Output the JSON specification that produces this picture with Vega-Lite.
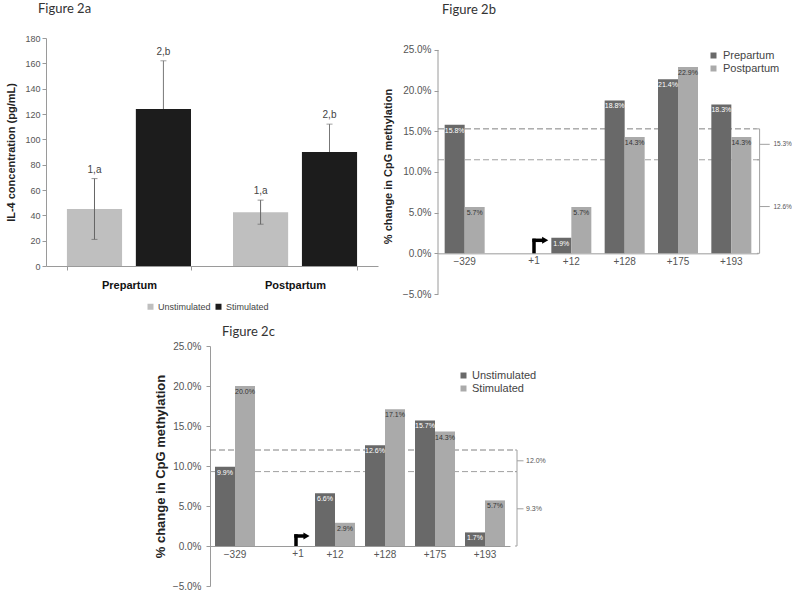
{
  "$schema": "https://vega.github.io/schema/vega-lite/v6.json",
  "padding": {"left": 5, "top": 3, "right": 0, "bottom": 0},
  "config": {
    "view": {"stroke": null},
    "font": "Liberation Sans",
    "axis": {"labelFont": "Liberation Sans", "labelColor": "#555555", "domainColor": "#9a9a9a", "tickColor": "#9a9a9a", "grid": false, "labelFontSize": 10, "labelOverlap": false, "titleFont": "Liberation Sans", "titleFontWeight": "bold", "titleColor": "#222222"},
    "legend": {"labelFont": "Liberation Sans", "labelColor": "#444444", "symbolType": "square", "symbolStrokeWidth": 0},
    "title": {"font": "Lato", "fontSize": 13, "fontWeight": "normal", "anchor": "start", "frame": "group", "color": "#333333"}
  },
  "spacing": 14,
  "resolve": {"scale": {"color": "independent", "xOffset": "independent"}, "legend": {"color": "independent"}},
  "vconcat": [
    {
      "resolve": {"scale": {"color": "independent", "xOffset": "independent"}, "legend": {"color": "independent"}},
      "spacing": 4,
      "hconcat": [
        {
          "title": {"text": "Figure 2a", "dx": -8, "offset": 18},
          "width": 332,
          "height": 228,
          "data": {"values": [
            {"period": "Prepartum", "group": "Unstimulated", "value": 45, "lo": 21, "hi": 69, "sig": "1,a"},
            {"period": "Prepartum", "group": "Stimulated", "value": 124, "lo": 86, "hi": 162, "sig": "2,b"},
            {"period": "Postpartum", "group": "Unstimulated", "value": 42.5, "lo": 33, "hi": 52, "sig": "1,a"},
            {"period": "Postpartum", "group": "Stimulated", "value": 90, "lo": 68, "hi": 112, "sig": "2,b"}
          ]},
          "encoding": {
            "x": {"field": "period", "type": "nominal", "sort": ["Prepartum", "Postpartum"], "scale": {"paddingInner": 0.253, "paddingOuter": 0.126},
                  "axis": {"title": null, "labelAngle": 0, "labelFontWeight": "bold", "labelFontSize": 11, "labelColor": "#111111", "labelPadding": 9, "tickBand": "extent", "tickSize": 4}},
            "xOffset": {"field": "group", "type": "nominal", "sort": ["Unstimulated", "Stimulated"], "scale": {"paddingInner": 0.2}}
          },
          "layer": [
            {
              "transform": [{"filter": "datum.group === 'Stimulated'"}],
              "mark": {"type": "rule", "color": "#777777"},
              "encoding": {"y": {"field": "lo", "type": "quantitative", "scale": {"domain": [0, 180], "nice": false}, "title": "IL-4 concentration (pg/mL)"}, "y2": {"field": "hi"}}
            },
            {
              "transform": [{"filter": "datum.group === 'Stimulated'"}],
              "mark": {"type": "tick", "size": 6, "thickness": 1, "color": "#777777"},
              "encoding": {"y": {"field": "hi", "type": "quantitative", "title": "IL-4 concentration (pg/mL)"}}
            },
            {
              "mark": {"type": "bar"},
              "encoding": {
                "y": {"field": "value", "type": "quantitative", "scale": {"domain": [0, 180], "nice": false}, "title": "IL-4 concentration (pg/mL)",
                      "axis": {"values": [0, 20, 40, 60, 80, 100, 120, 140, 160, 180], "tickCount": 30, "titleFontSize": 11, "labelFontSize": 9, "tickSize": 4, "titlePadding": 8}},
                "color": {"field": "group", "type": "nominal", "scale": {"domain": ["Unstimulated", "Stimulated"], "range": ["#bfbfbf", "#1c1c1c"]},
                          "legend": {"title": null, "orient": "none", "direction": "horizontal", "legendX": 100, "legendY": 264, "labelFontSize": 9, "symbolSize": 36, "columnPadding": 3, "labelOffset": 3}}
              }
            },
            {
              "transform": [{"filter": "datum.group === 'Unstimulated'"}],
              "mark": {"type": "rule", "color": "#666666"},
              "encoding": {"y": {"field": "lo", "type": "quantitative", "title": "IL-4 concentration (pg/mL)"}, "y2": {"field": "hi"}}
            },
            {
              "transform": [{"filter": "datum.group === 'Unstimulated'"}],
              "mark": {"type": "tick", "size": 6, "thickness": 1, "color": "#666666"},
              "encoding": {"y": {"field": "hi", "type": "quantitative", "title": "IL-4 concentration (pg/mL)"}}
            },
            {
              "transform": [{"filter": "datum.group === 'Unstimulated'"}],
              "mark": {"type": "tick", "size": 6, "thickness": 1, "color": "#666666"},
              "encoding": {"y": {"field": "lo", "type": "quantitative", "title": "IL-4 concentration (pg/mL)"}}
            },
            {
              "mark": {"type": "text", "baseline": "bottom", "dy": -4, "fontSize": 10, "color": "#444444"},
              "encoding": {"y": {"field": "hi", "type": "quantitative", "title": "IL-4 concentration (pg/mL)"}, "text": {"field": "sig"}}
            }
          ]
        },
        {
          "title": {"text": "Figure 2b", "dx": 4, "offset": 21},
          "width": 320,
          "height": 256,
          "resolve": {"scale": {"x": "independent"}},
          "layer": [
            {
              "data": {"values": [{"level": 0.153}, {"level": 0.115}]},
              "mark": {"type": "rule", "strokeDash": [6, 3]},
              "encoding": {
                "x": {"datum": 0, "type": "quantitative", "scale": {"domain": [0, 6], "nice": false, "zero": false}, "axis": null},
                "x2": {"datum": 5.98},
                "y": {"field": "level", "type": "quantitative", "scale": {"domain": [-0.05, 0.2647], "nice": false}, "title": "% change in CpG methylation"},
                "color": {"condition": {"test": "datum.level > 0.14", "value": "#808080"}, "value": "#a0a0a0"}
              }
            },
            {
              "data": {"values": [
                {"site": "−329", "series": "Prepartum", "value": 0.158},
                {"site": "+12", "series": "Prepartum", "value": 0.019},
                {"site": "+128", "series": "Prepartum", "value": 0.188},
                {"site": "+175", "series": "Prepartum", "value": 0.214},
                {"site": "+193", "series": "Prepartum", "value": 0.183},
                {"site": "−329", "series": "Postpartum", "value": 0.057},
                {"site": "+12", "series": "Postpartum", "value": 0.057},
                {"site": "+128", "series": "Postpartum", "value": 0.143},
                {"site": "+175", "series": "Postpartum", "value": 0.229},
                {"site": "+193", "series": "Postpartum", "value": 0.143}
              ]},
              "encoding": {
                "x": {"field": "site", "type": "nominal", "scale": {"domain": ["−329", "gap", "+12", "+128", "+175", "+193"], "paddingInner": 0.25, "paddingOuter": 0.125},
                      "axis": {"title": null, "labelAngle": 0, "labelExpr": "datum.value === 'gap' ? '' : datum.value", "offset": -40.67, "ticks": false, "labelPadding": 3}},
                "xOffset": {"field": "series", "type": "nominal", "scale": {"domain": ["Prepartum", "Postpartum"]}},
                "y": {"field": "value", "type": "quantitative", "scale": {"domain": [-0.05, 0.2647], "nice": false}, "title": "% change in CpG methylation",
                      "axis": {"format": ".1%", "values": [-0.05, 0, 0.05, 0.1, 0.15, 0.2, 0.25], "tickCount": 30, "domain": false, "titleFontSize": 11, "tickSize": 4, "labelPadding": 3, "titlePadding": 9}}
              },
              "layer": [
                {
                  "mark": {"type": "bar"},
                  "encoding": {"color": {"field": "series", "type": "nominal", "scale": {"domain": ["Prepartum", "Postpartum"], "range": ["#696969", "#aaaaaa"]},
                    "legend": {"title": null, "orient": "none", "legendX": 270, "legendY": 12, "labelFontSize": 11, "symbolSize": 36, "labelOffset": 4, "rowPadding": 1}}}
                },
                {
                  "mark": {"type": "text", "baseline": "top", "dy": 2, "fontSize": 7},
                  "encoding": {"text": {"field": "value", "type": "quantitative", "format": ".1%"},
                    "color": {"condition": {"test": "datum.series === 'Prepartum'", "value": "#ffffff"}, "value": "#333333"}}
                }
              ]
            },
            {
              "data": {"values": [
                {"lo": 0.115, "hi": 0.153, "mid": 0.134, "lab": "15.3%"},
                {"lo": 0, "hi": 0.115, "mid": 0.0575, "lab": "12.6%"}
              ]},
              "layer": [
                {"mark": {"type": "rule", "color": "#a0a0a0"}, "encoding": {
                  "x": {"datum": 6.03, "type": "quantitative", "scale": {"domain": [0, 6], "nice": false, "zero": false}, "axis": null},
                  "y": {"field": "lo", "type": "quantitative", "title": "% change in CpG methylation"}, "y2": {"field": "hi"}}},
                {"mark": {"type": "rule", "color": "#a0a0a0"}, "encoding": {
                  "x": {"datum": 5.98, "type": "quantitative"}, "x2": {"datum": 6.03},
                  "y": {"field": "hi", "type": "quantitative", "title": "% change in CpG methylation"}}},
                {"mark": {"type": "rule", "color": "#a0a0a0"}, "encoding": {
                  "x": {"datum": 5.98, "type": "quantitative"}, "x2": {"datum": 6.03},
                  "y": {"field": "lo", "type": "quantitative", "title": "% change in CpG methylation"}}},
                {"mark": {"type": "rule", "color": "#a0a0a0"}, "encoding": {
                  "x": {"datum": 6.03, "type": "quantitative"}, "x2": {"datum": 6.22},
                  "y": {"field": "mid", "type": "quantitative", "title": "% change in CpG methylation"}}},
                {"mark": {"type": "text", "align": "left", "baseline": "middle", "fontSize": 6.5, "color": "#555555"}, "encoding": {
                  "x": {"datum": 6.29, "type": "quantitative"},
                  "y": {"field": "mid", "type": "quantitative", "title": "% change in CpG methylation"}, "text": {"field": "lab"}}}
              ]
            },
            {
              "data": {"values": [{"note": "+1"}]},
              "layer": [
                {"mark": {"type": "rule", "color": "#9a9a9a"}, "encoding": {
                  "x": {"datum": 0, "type": "quantitative", "scale": {"domain": [0, 6], "nice": false, "zero": false}, "axis": null},
                  "y": {"datum": -0.05, "type": "quantitative", "title": "% change in CpG methylation"}, "y2": {"datum": 0.25}}},
                {"mark": {"type": "rule", "strokeWidth": 3.5, "color": "#000000"}, "encoding": {
                  "x": {"datum": 1.8, "type": "quantitative"},
                  "y": {"datum": 0, "type": "quantitative", "title": "% change in CpG methylation"}, "y2": {"datum": 0.018}}},
                {"mark": {"type": "rule", "strokeWidth": 3.5, "color": "#000000"}, "encoding": {
                  "x": {"datum": 1.77, "type": "quantitative"}, "x2": {"datum": 1.97},
                  "y": {"datum": 0.016, "type": "quantitative", "title": "% change in CpG methylation"}}},
                {"mark": {"type": "point", "shape": "triangle-right", "filled": true, "size": 50, "color": "#000000", "opacity": 1}, "encoding": {
                  "x": {"datum": 2.01, "type": "quantitative"},
                  "y": {"datum": 0.016, "type": "quantitative", "title": "% change in CpG methylation"}}},
                {"mark": {"type": "text", "baseline": "top", "dy": 3, "fontSize": 10, "color": "#555555"}, "encoding": {
                  "x": {"datum": 1.8, "type": "quantitative"},
                  "y": {"datum": 0, "type": "quantitative", "title": "% change in CpG methylation"}, "text": {"field": "note"}}}
              ]
            }
          ]
        }
      ]
    },
    {
      "resolve": {"scale": {"color": "independent", "xOffset": "independent"}, "legend": {"color": "independent"}},
      "columns": 2,
      "align": "none",
      "spacing": 0,
      "concat": [
        {
          "width": 108,
          "height": 10,
          "data": {"values": [{"s": 1}]},
          "mark": {"type": "point", "opacity": 0}
        },
        {
          "title": {"text": "Figure 2c", "dx": 12, "offset": 2},
          "width": 300,
          "height": 240,
          "resolve": {"scale": {"x": "independent"}},
          "layer": [
            {
              "data": {"values": [{"level": 0.12}, {"level": 0.093}]},
              "mark": {"type": "rule", "strokeDash": [6, 3]},
              "encoding": {
                "x": {"datum": 0, "type": "quantitative", "scale": {"domain": [0, 6], "nice": false, "zero": false}, "axis": null},
                "x2": {"datum": 6.1},
                "y": {"field": "level", "type": "quantitative", "scale": {"domain": [-0.05, 0.25], "nice": false}, "title": "% change in CpG methylation"},
                "color": {"condition": {"test": "datum.level > 0.11", "value": "#808080"}, "value": "#a0a0a0"}
              }
            },
            {
              "data": {"values": [
                {"site": "−329", "series": "Unstimulated", "value": 0.099},
                {"site": "+12", "series": "Unstimulated", "value": 0.066},
                {"site": "+128", "series": "Unstimulated", "value": 0.126},
                {"site": "+175", "series": "Unstimulated", "value": 0.157},
                {"site": "+193", "series": "Unstimulated", "value": 0.017},
                {"site": "−329", "series": "Stimulated", "value": 0.2},
                {"site": "+12", "series": "Stimulated", "value": 0.029},
                {"site": "+128", "series": "Stimulated", "value": 0.171},
                {"site": "+175", "series": "Stimulated", "value": 0.143},
                {"site": "+193", "series": "Stimulated", "value": 0.057}
              ]},
              "encoding": {
                "x": {"field": "site", "type": "nominal", "scale": {"domain": ["−329", "gap", "+12", "+128", "+175", "+193"], "paddingInner": 0.2, "paddingOuter": 0.1},
                      "axis": {"title": null, "labelAngle": 0, "labelExpr": "datum.value === 'gap' ? '' : datum.value", "offset": -40, "ticks": false, "labelPadding": 3}},
                "xOffset": {"field": "series", "type": "nominal", "scale": {"domain": ["Unstimulated", "Stimulated"]}},
                "y": {"field": "value", "type": "quantitative", "scale": {"domain": [-0.05, 0.25], "nice": false}, "title": "% change in CpG methylation",
                      "axis": {"format": ".1%", "values": [-0.05, 0, 0.05, 0.1, 0.15, 0.2, 0.25], "tickCount": 30, "titleFontSize": 13, "tickSize": 4, "labelPadding": 5, "titlePadding": 5}}
              },
              "layer": [
                {
                  "mark": {"type": "bar"},
                  "encoding": {"color": {"field": "series", "type": "nominal", "scale": {"domain": ["Unstimulated", "Stimulated"], "range": ["#696969", "#aaaaaa"]},
                    "legend": {"title": null, "orient": "none", "legendX": 248, "legendY": 24, "labelFontSize": 11, "symbolSize": 36, "labelOffset": 3, "rowPadding": 1}}}
                },
                {
                  "mark": {"type": "text", "baseline": "top", "dy": 2, "fontSize": 7},
                  "encoding": {"text": {"field": "value", "type": "quantitative", "format": ".1%"},
                    "color": {"condition": {"test": "datum.series === 'Unstimulated'", "value": "#ffffff"}, "value": "#333333"}}
                }
              ]
            },
            {
              "data": {"values": [
                {"lo": 0.093, "hi": 0.12, "mid": 0.1065, "lab": "12.0%"},
                {"lo": 0, "hi": 0.093, "mid": 0.0465, "lab": "9.3%"}
              ]},
              "layer": [
                {"mark": {"type": "rule", "color": "#a0a0a0"}, "encoding": {
                  "x": {"datum": 6.14, "type": "quantitative", "scale": {"domain": [0, 6], "nice": false, "zero": false}, "axis": null},
                  "y": {"field": "lo", "type": "quantitative", "title": "% change in CpG methylation"}, "y2": {"field": "hi"}}},
                {"mark": {"type": "rule", "color": "#a0a0a0"}, "encoding": {
                  "x": {"datum": 6.1, "type": "quantitative"}, "x2": {"datum": 6.14},
                  "y": {"field": "hi", "type": "quantitative", "title": "% change in CpG methylation"}}},
                {"mark": {"type": "rule", "color": "#a0a0a0"}, "encoding": {
                  "x": {"datum": 6.1, "type": "quantitative"}, "x2": {"datum": 6.14},
                  "y": {"field": "lo", "type": "quantitative", "title": "% change in CpG methylation"}}},
                {"mark": {"type": "rule", "color": "#a0a0a0"}, "encoding": {
                  "x": {"datum": 6.14, "type": "quantitative"}, "x2": {"datum": 6.27},
                  "y": {"field": "mid", "type": "quantitative", "title": "% change in CpG methylation"}}},
                {"mark": {"type": "text", "align": "left", "baseline": "middle", "fontSize": 7, "color": "#555555"}, "encoding": {
                  "x": {"datum": 6.32, "type": "quantitative"},
                  "y": {"field": "mid", "type": "quantitative", "title": "% change in CpG methylation"}, "text": {"field": "lab"}}}
              ]
            },
            {
              "data": {"values": [{"note": "+1"}]},
              "layer": [
                {"mark": {"type": "rule", "strokeWidth": 3.5, "color": "#000000"}, "encoding": {
                  "x": {"datum": 1.72, "type": "quantitative", "scale": {"domain": [0, 6], "nice": false, "zero": false}, "axis": null},
                  "y": {"datum": 0, "type": "quantitative", "title": "% change in CpG methylation"}, "y2": {"datum": 0.0147}}},
                {"mark": {"type": "rule", "strokeWidth": 3.5, "color": "#000000"}, "encoding": {
                  "x": {"datum": 1.685, "type": "quantitative"}, "x2": {"datum": 1.88},
                  "y": {"datum": 0.0125, "type": "quantitative", "title": "% change in CpG methylation"}}},
                {"mark": {"type": "point", "shape": "triangle-right", "filled": true, "size": 50, "color": "#000000", "opacity": 1}, "encoding": {
                  "x": {"datum": 1.93, "type": "quantitative"},
                  "y": {"datum": 0.0125, "type": "quantitative", "title": "% change in CpG methylation"}}},
                {"mark": {"type": "text", "baseline": "top", "dy": 3, "fontSize": 10, "color": "#555555"}, "encoding": {
                  "x": {"datum": 1.76, "type": "quantitative"},
                  "y": {"datum": 0, "type": "quantitative", "title": "% change in CpG methylation"}, "text": {"field": "note"}}}
              ]
            }
          ]
        }
      ]
    }
  ]
}
